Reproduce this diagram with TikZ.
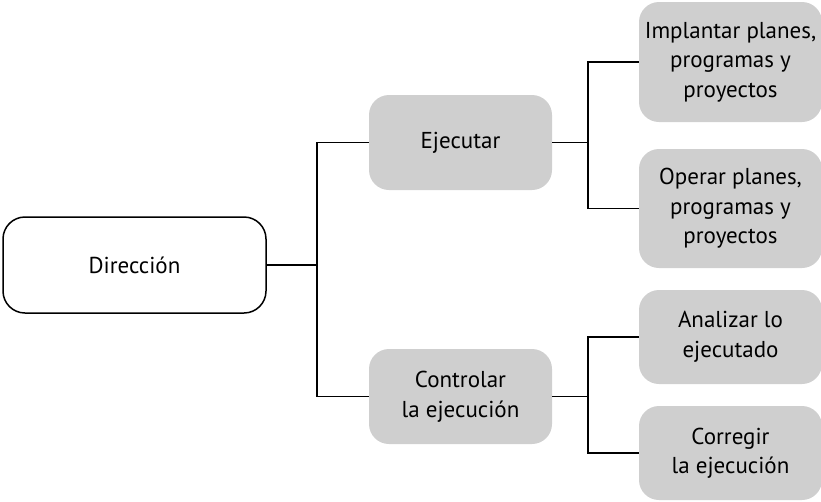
\documentclass[tikz,border=0pt]{standalone}
\usepackage{fontspec}
\setmainfont{PT Sans}
\begin{document}
\begin{tikzpicture}[x=1pt,y=-1pt,
  txt/.style={font=\fontsize{23}{29.5}\selectfont, align=center, inner sep=0pt},
  graybox/.style={txt, fill=boxgray, rounded corners=20pt, minimum width=183pt},
  conn/.style={line width=1.5pt}]
\definecolor{boxgray}{HTML}{CFCFCF}
\useasboundingbox (0,0) rectangle (821,501);
\node[txt, draw, line width=1.5pt, rounded corners=22pt, minimum width=263pt, minimum height=96pt] (dir) at (134.5,265) {Dirección};
\node[graybox, minimum height=95pt] (ej) at (460.5,142.5) {Ejecutar};
\node[graybox, minimum height=95pt] (ctrl) at (460.5,396.5) {Controlar\\la ejecución};
\node[graybox, minimum height=120pt] (imp) at (730.5,62) {Implantar planes,\\programas y\\proyectos};
\node[graybox, minimum height=119pt] (op) at (730.5,208.5) {Operar planes,\\programas y\\proyectos};
\node[graybox, minimum height=94pt] (an) at (730.5,337) {Analizar lo\\ejecutado};
\node[graybox, minimum height=94pt] (cor) at (730.5,453) {Corregir\\la ejecución};
\coordinate (j1) at (317,268);
\coordinate (j2) at (588,143);
\coordinate (j3) at (588,399);
\draw[conn] (dir.east) -- (dir.east -| j1);
\draw[conn] (ej.west) -- (ej.west -| j1) |- (ctrl.west);
\draw[conn] (ej.east) -- (ej.east -| j2);
\draw[conn] (imp.west) -- (imp.west -| j2) |- (op.west);
\draw[conn] (ctrl.east) -- (ctrl.east -| j3);
\draw[conn] (an.west) -- (an.west -| j3) |- (cor.west);
\end{tikzpicture}
\end{document}
